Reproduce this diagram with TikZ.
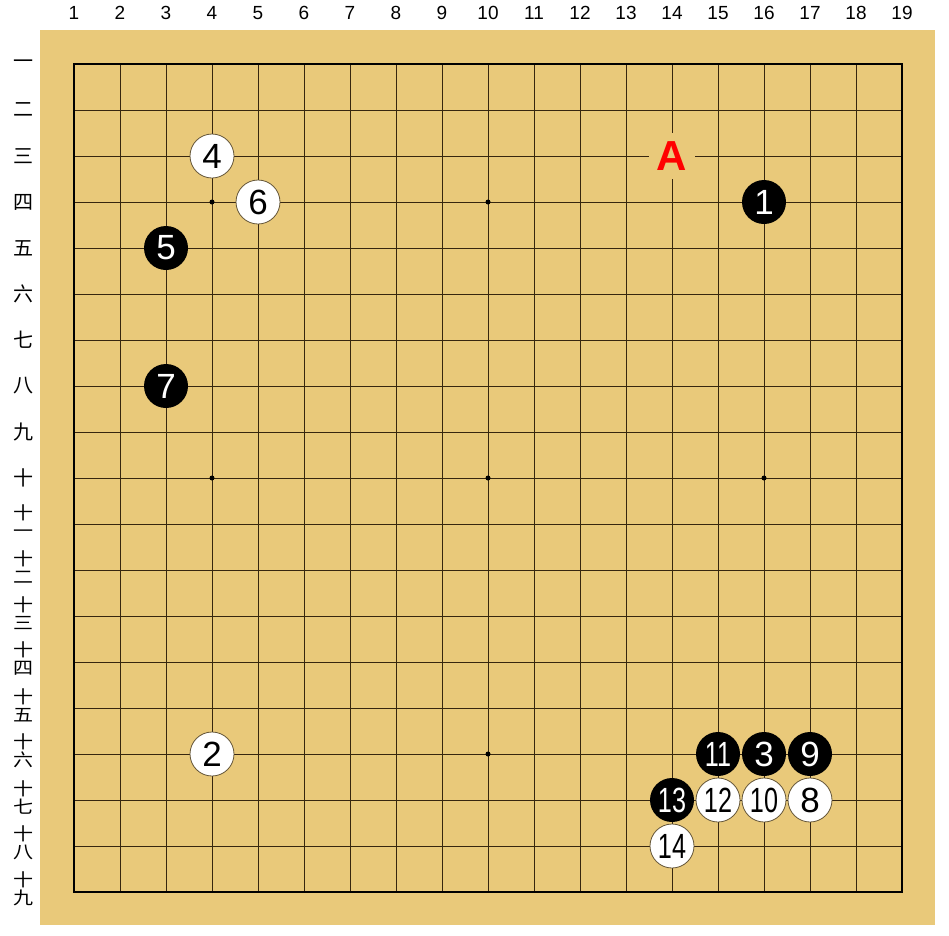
\documentclass[tikz,border=0pt]{standalone}
\usepackage{fontspec}
\setmainfont{Liberation Sans}
\newfontfamily\cjk{Noto Sans CJK SC}
\usepackage{graphicx}
\definecolor{boardcol}{RGB}{233,201,122}
\definecolor{gridcol}{RGB}{55,38,15}
\definecolor{wedge}{RGB}{100,85,55}
\tikzset{
  stone/.style={circle, minimum size=44pt, inner sep=0pt, font=\fontsize{35}{35}\selectfont},
  bstone/.style={stone, fill=black, text=white},
  wstone/.style={stone, fill=white, draw=wedge, line width=0.8pt, text=black},
  collab/.style={font=\fontsize{19}{19}\selectfont, inner sep=0pt},
  rowlab/.style={font=\cjk\fontsize{20}{18}\selectfont, inner sep=0pt, align=center},
  gridline/.style={draw=gridcol, line width=1pt},
  starpt/.style={circle, fill=black, minimum size=5pt, inner sep=0pt},
  marklab/.style={fill=boardcol, minimum size=46pt, inner sep=0pt, text=red, font=\fontsize{42}{42}\selectfont\bfseries}
}
\newcommand{\sq}[1]{\scalebox{1}[0.88]{#1}}
\begin{document}
\begin{tikzpicture}[x=1pt,y=-1pt]
\useasboundingbox (0,0) rectangle (949,935);
\fill[white] (0,0) rectangle (949,935);
\fill[boardcol] (40,30) rectangle (935,925);
% column labels
\foreach \c in {1,...,19} {
  \node[collab] (col\c) at ({74+46*(\c-1)},13) {\c};
}
% row labels
\foreach \r/\t in {1/一,2/二,3/三,4/四,5/五,6/六,7/七,8/八,9/九,10/十} {
  \node[rowlab] (row\r) at (23,{64+46*(\r-1)}) {\t};
}
\foreach \r/\t in {11/一,12/二,13/三,14/四,15/五,16/六,17/七,18/八,19/九} {
  \node[rowlab] (row\r) at (23,{64+46*(\r-1)-3}) {\sq{十}\\\sq{\t}};
}
\begin{scope}[shift={(74,64)}, x=46pt, y=-46pt]
  \foreach \i in {1,...,17} {
    \draw[gridline] (\i,0) -- (\i,18);
    \draw[gridline] (0,\i) -- (18,\i);
  }
  \draw[line width=2.5pt] (0,0) rectangle (18,18);
  \foreach \a in {3,9,15} \foreach \b in {3,9,15}
    \node[starpt] (star\a\b) at (\a,\b) {};
  % marker A
  \node[marklab] (markA) at (13,2) {A};
  % stones
  \node[bstone] (s1) at (15,3) {1};
  \node[wstone] (s2) at (3,15) {2};
  \node[bstone] (s3) at (15,15) {3};
  \node[wstone] (s4) at (3,2) {4};
  \node[bstone] (s5) at (2,4) {5};
  \node[wstone] (s6) at (4,3) {6};
  \node[bstone] (s7) at (2,7) {7};
  \node[wstone] (s8) at (16,16) {8};
  \node[bstone] (s9) at (16,15) {9};
  \node[wstone] (s10) at (15,16) {\scalebox{0.72}[1]{10}};
  \node[bstone] (s11) at (14,15) {\scalebox{0.72}[1]{11}};
  \node[wstone] (s12) at (14,16) {\scalebox{0.72}[1]{12}};
  \node[bstone] (s13) at (13,16) {\scalebox{0.72}[1]{13}};
  \node[wstone] (s14) at (13,17) {\scalebox{0.72}[1]{14}};
\end{scope}
\end{tikzpicture}
\end{document}
